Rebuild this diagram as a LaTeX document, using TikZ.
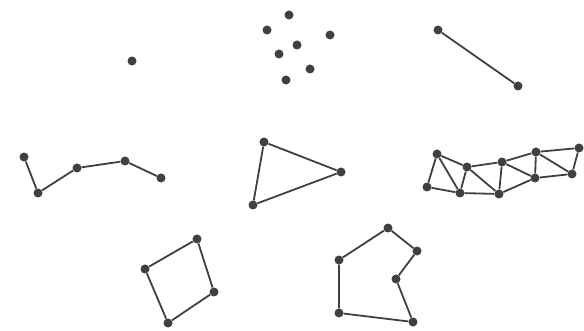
\documentclass[tikz,border=0pt]{standalone}
\begin{document}
\begin{tikzpicture}[x=1pt,y=-1pt,
  pt/.style={circle,fill=black!75,inner sep=0pt,minimum size=9pt},
  ed/.style={draw=black!75,line width=1.8pt}]
\useasboundingbox (0,0) rectangle (584,331);
% single point
\node[pt] (s) at (132,61) {};
% cluster
\node[pt] (c1) at (289,15) {};
\node[pt] (c2) at (267,30) {};
\node[pt] (c3) at (330,35) {};
\node[pt] (c4) at (297,45) {};
\node[pt] (c5) at (279,54) {};
\node[pt] (c6) at (310,69) {};
\node[pt] (c7) at (286,80) {};
% segment
\node[pt] (l1) at (438,30) {};
\node[pt] (l2) at (518,86) {};
\draw[ed] (l1) -- (l2);
% polyline
\node[pt] (p1) at (24,157) {};
\node[pt] (p2) at (38,193) {};
\node[pt] (p3) at (77,168) {};
\node[pt] (p4) at (125,161) {};
\node[pt] (p5) at (161,178) {};
\draw[ed] (p1) -- (p2) -- (p3) -- (p4) -- (p5);
% triangle
\node[pt] (t1) at (264,142) {};
\node[pt] (t2) at (341,172) {};
\node[pt] (t3) at (253,205) {};
\draw[ed] (t1) -- (t2) -- (t3) -- (t1);
% strip
\node[pt] (a1) at (437,154) {};
\node[pt] (a2) at (467,167) {};
\node[pt] (a3) at (502,162) {};
\node[pt] (a4) at (536,152) {};
\node[pt] (a5) at (579,148) {};
\node[pt] (b1) at (427,187) {};
\node[pt] (b2) at (460,193) {};
\node[pt] (b3) at (499,194) {};
\node[pt] (b4) at (535,178) {};
\node[pt] (b5) at (572,174) {};
\draw[ed] (b1) -- (a1) -- (a2) -- (a3) -- (a4) -- (a5) -- (b5) -- (b4) -- (b3) -- (b2) -- (b1);
\draw[ed] (a1) -- (b2) -- (a2) -- (b3) -- (a3) -- (b4) -- (a4) -- (b5);
% quadrilateral
\node[pt] (q1) at (197,239) {};
\node[pt] (q2) at (145,269) {};
\node[pt] (q3) at (214,292) {};
\node[pt] (q4) at (168,323) {};
\draw[ed] (q1) -- (q2) -- (q4) -- (q3) -- (q1);
% polygon
\node[pt] (h1) at (388,228) {};
\node[pt] (h2) at (417,251) {};
\node[pt] (h3) at (339,260) {};
\node[pt] (h4) at (396,279) {};
\node[pt] (h5) at (339,313) {};
\node[pt] (h6) at (413,322) {};
\draw[ed] (h1) -- (h2) -- (h4) -- (h6) -- (h5) -- (h3) -- (h1);
\end{tikzpicture}
\end{document}
